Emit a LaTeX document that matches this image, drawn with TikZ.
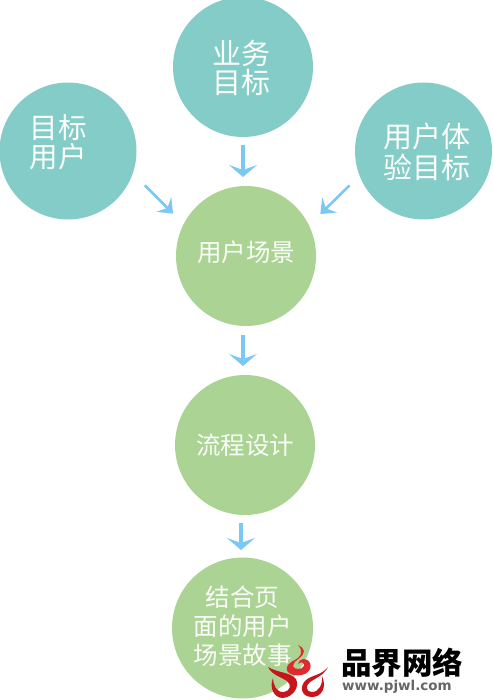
\documentclass[tikz,border=0pt]{standalone}
\usepackage{fontspec}
\setmainfont{Noto Sans CJK SC}
\newfontfamily\latinbold{DejaVu Sans}
\usetikzlibrary{arrows.meta}
\definecolor{tealc}{HTML}{84CCC8}
\definecolor{greenc}{HTML}{ABD494}
\definecolor{arrowc}{HTML}{7CC8F5}
\definecolor{txtc}{HTML}{FBFDF9}
\definecolor{logored}{HTML}{C8141C}
\definecolor{logolight}{HTML}{E02A30}
\tikzset{
  goal/.style={circle,fill=tealc,inner sep=0pt,outer sep=0pt},
  stage/.style={circle,fill=greenc,inner sep=0pt,outer sep=0pt},
  caption/.style={inner sep=0pt,text=txtc,align=center},
  bigflow/.style={draw=arrowc,line width=4.8pt,-{Stealth[length=12pt,width=28pt,inset=5pt]}},
  sideflow/.style={draw=arrowc,line width=2.6pt,-{Stealth[length=13pt,width=21pt,inset=5pt]}},
  flame/.style={fill=logored,even odd rule}
}
\begin{document}
\begin{tikzpicture}[x=1pt,y=-1pt]
\useasboundingbox (0,0) rectangle (492,700);
\node[goal,minimum size=140pt] (biz) at (243,67) {};
\node[goal,minimum size=137pt] (user) at (68,151) {};
\node[goal,minimum size=137pt] (ux) at (423.5,151) {};
\node[stage,minimum size=140pt] (scene) at (246,256) {};
\node[stage,minimum size=140pt] (flow) at (245,445) {};
\node[stage,minimum size=141pt] (story) at (242.5,628) {};
\node[caption,font=\fontsize{29}{29}\selectfont] (biztext) at (241.5,68) {业务\\目标};
\node[caption,font=\fontsize{28.5}{29}\selectfont] (usertext) at (58,142) {目标\\用户};
\node[caption,font=\fontsize{29}{31}\selectfont] (uxtext) at (426.5,151.5) {用户体\\验目标};
\node[caption,font=\fontsize{24.5}{26}\selectfont] (scenetext) at (246,252) {用户场景};
\node[caption,font=\fontsize{24.5}{26}\selectfont] (flowtext) at (245,445) {流程设计};
\node[caption,font=\fontsize{24.5}{29}\selectfont] (storytext) at (242.5,626) {结合页\\面的用户\\场景故事};
\draw[bigflow,shorten <=8pt,shorten >=9pt] (biz.south) -- (biz.south |- scene.north);
\draw[sideflow,shorten <=17pt,shorten >=15pt] (user.-19) -- (scene.153);
\draw[sideflow,shorten <=14pt,shorten >=16pt] (ux.201) -- (scene.26);
\draw[bigflow,shorten <=9pt,shorten >=9pt] (scene.south -| 243,0) -- (243,375);
\draw[bigflow,shorten <=8pt,shorten >=8pt] (flow.south -| 241,0) -- (241,558);
% watermark logo
\fill[flame] (268,667) .. controls (278,673) and (290,672) .. (296,679) .. controls (300,687) and (293,697) .. (283,698) .. controls (274,698) and (269,688) .. (273,678) .. controls (273,684) and (276,693) .. (284,692) .. controls (290,691) and (292,685) .. (287,681) .. controls (281,677) and (272,675) .. (268,667) -- cycle;
\fill[flame] (328,667) .. controls (322,675) and (312,675) .. (306,680) .. controls (299,686) and (301,697) .. (312,697) .. controls (322,697) and (327,687) .. (322,676) .. controls (323,684) and (319,692) .. (312,692) .. controls (306,692) and (305,686) .. (310,682) .. controls (316,678) and (324,675) .. (328,667) -- cycle;
\fill[logolight] (298,645) .. controls (304,652) and (301,657) .. (293,661) .. controls (285,665) and (284,673) .. (294,675) .. controls (304,677) and (313,671) .. (310,663) .. controls (307,657) and (299,658) .. (298,664) .. controls (301,661) and (305,663) .. (304,666) .. controls (302,670) and (294,670) .. (293,666) .. controls (293,660) and (304,658) .. (304,651) .. controls (303,648) and (301,646) .. (298,645) -- cycle;
\node[inner sep=0pt,anchor=west,font=\fontsize{30.5}{32}\selectfont\bfseries] (brand) at (341,663) {品界网络};
\node[inner sep=0pt,anchor=west,text=black!60,font=\latinbold\bfseries\fontsize{13.5}{16}\selectfont] (site) at (342,687) {www.pjwl.com};
\end{tikzpicture}
\end{document}
